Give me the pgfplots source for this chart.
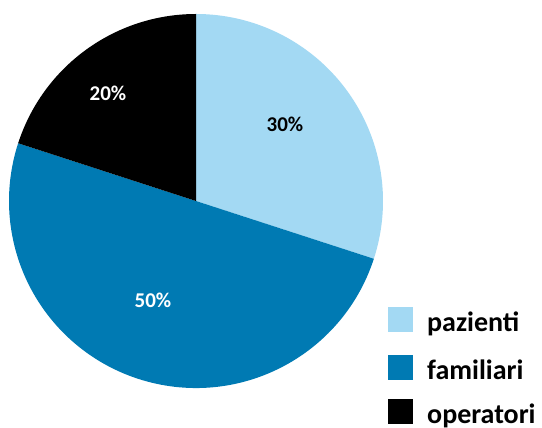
\documentclass[border=0pt]{standalone}
\usepackage{pgfplots}
\usepackage{pgfplotstable}
\pgfplotsset{compat=1.18}
\usepackage{fontspec}
\setmainfont{Carlito}
\definecolor{cpaz}{HTML}{A3D9F3}
\definecolor{cfam}{HTML}{007AB3}
\definecolor{cope}{HTML}{000000}

% share (%), fill, label colour, label position, legend row
\pgfplotstableread{
name      value color tcol  lx  ly  gy
pazienti  30    cpaz  black 285 304 96
familiari 50    cfam  white 153 128 48
operatori 20    cope  white 108 335 4
}\piedata

\begin{document}
\begin{tikzpicture}
\begin{axis}[
    width=542pt, height=428pt, scale only axis,
    xmin=0, xmax=542, ymin=0, ymax=428,
    hide axis, clip=false]
\pgfplotsextra{
  \gdef\startang{90}
  \foreach \i in {0,1,2}{
    \pgfplotstablegetelem{\i}{value}\of\piedata \pgfmathtruncatemacro\val{\pgfplotsretval}
    \pgfplotstablegetelem{\i}{color}\of\piedata \edef\col{\pgfplotsretval}
    \pgfplotstablegetelem{\i}{tcol}\of\piedata \edef\tcol{\pgfplotsretval}
    \pgfplotstablegetelem{\i}{lx}\of\piedata \edef\lx{\pgfplotsretval}
    \pgfplotstablegetelem{\i}{ly}\of\piedata \edef\ly{\pgfplotsretval}
    \pgfplotstablegetelem{\i}{gy}\of\piedata \edef\gy{\pgfplotsretval}
    \pgfplotstablegetelem{\i}{name}\of\piedata \edef\nm{\pgfplotsretval}
    \pgfmathsetmacro\endang{\startang-3.6*\val}
    \fill[\col] (axis cs:196,227) -- ++(\startang:187pt)
      arc[start angle=\startang, end angle=\endang, radius=187pt] -- cycle;
    \node[text=\tcol, font=\fontsize{21}{24}\selectfont\bfseries]
      at (axis cs:\lx,\ly) {\val\%};
    \fill[\col] (axis cs:388,\gy) rectangle (axis cs:413,\gy+25);
    \node[anchor=base west, inner sep=0pt, font=\fontsize{28}{32}\selectfont\bfseries]
      at (axis cs:427,\gy) {\nm};
    \xdef\startang{\endang}
  }
}
\end{axis}
\pgfresetboundingbox
\useasboundingbox (0,0) rectangle (542pt,428pt);
\end{tikzpicture}
\end{document}
